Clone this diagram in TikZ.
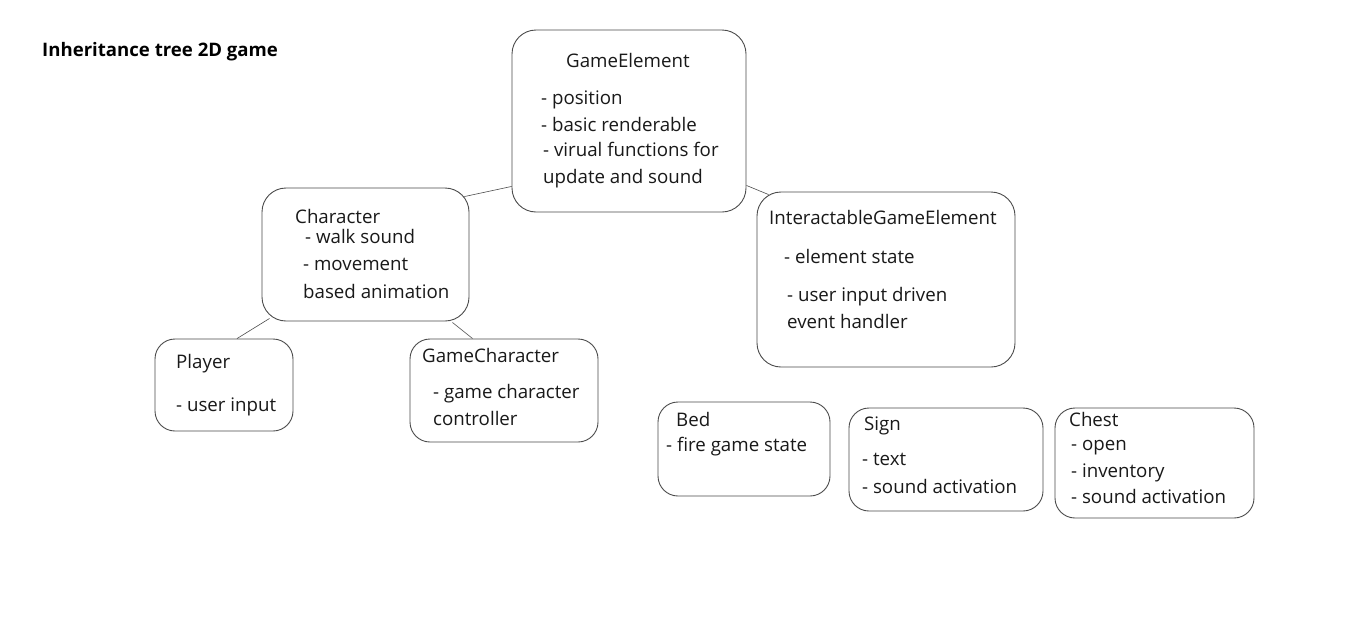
\documentclass[tikz,border=0pt]{standalone}
\usepackage{fontspec}
\setmainfont{Open Sans}
\usetikzlibrary{calc}
\tikzset{
  box/.style={draw=black!70, line width=0.9pt, rounded corners=24pt, inner sep=0pt},
  sbox/.style={box, rounded corners=20pt},
  txt/.style={anchor=base west, inner sep=0pt, font=\fontsize{18.7}{22}\selectfont, text=black!90},
  conn/.style={draw=black!70, line width=0.6pt},
}
\begin{document}
\begin{tikzpicture}[x=1pt,y=-1pt]
\useasboundingbox[fill=white] (0,0) rectangle (1350,619);
% title
\node[anchor=base west, inner sep=0pt, font=\fontsize{18.6}{22}\selectfont\bfseries] (title) at (42,56) {Inheritance tree 2D game};
% boxes
\node[box, minimum width=234pt, minimum height=182pt] (ge) at (629,121) {};
\node[box, minimum width=207pt, minimum height=133pt] (char) at (365.5,254.5) {};
\node[box, minimum width=258pt, minimum height=175pt] (ige) at (886,279.5) {};
\node[sbox, minimum width=138pt, minimum height=92pt] (player) at (224,385) {};
\node[sbox, minimum width=188pt, minimum height=103pt] (gc) at (504,390.5) {};
\node[sbox, minimum width=172pt, minimum height=94pt] (bed) at (744,449) {};
\node[sbox, minimum width=194pt, minimum height=103pt] (sign) at (946,459.5) {};
\node[sbox, minimum width=199pt, minimum height=110pt] (chest) at (1154.5,463) {};
% connectors
\draw[conn] ($(char.north east)+(-5,9)$) -- ($(ge.south west)+(0,-26)$);
\draw[conn] ($(ge.south east)+(0,-27)$) -- ($(ige.north west)+(12,3)$);
\draw[conn] ($(char.south west)+(8,-3)$) -- ($(player.north)+(13,0)$);
\draw[conn] ($(char.south east)+(-17,1)$) -- ($(gc.north west)+(63,0)$);
% texts GameElement
\node[txt] (t1) at (566,67) {GameElement};
\node[txt] (t2) at (541,104) {- position};
\node[txt] (t3) at (541,131) {- basic renderable};
\node[txt] (t4) at (543,156) {- virual functions for};
\node[txt] (t5) at (543,183) {update and sound};
% Character
\node[txt] (c1) at (295,223) {Character};
\node[txt] (c2) at (305,243) {- walk sound};
\node[txt] (c3) at (303,270) {- movement};
\node[txt] (c4) at (303,298) {based animation};
% Interactable
\node[txt] (i1) at (769,224) {InteractableGameElement};
\node[txt] (i2) at (784,263) {- element state};
\node[txt] (i3) at (787,301) {- user input driven};
\node[txt] (i4) at (787,328) {event handler};
% Player
\node[txt] (p1) at (176,368) {Player};
\node[txt] (p2) at (176,411) {- user input};
% GameCharacter
\node[txt] (g1) at (422,362) {GameCharacter};
\node[txt] (g2) at (433,398) {- game character};
\node[txt] (g3) at (433,425) {controller};
% Bed
\node[txt] (b1) at (676,426) {Bed};
\node[txt] (b2) at (666,451) {- fire game state};
% Sign
\node[txt] (s1) at (864,430) {Sign};
\node[txt] (s2) at (862,465) {- text};
\node[txt] (s3) at (862,493) {- sound activation};
% Chest
\node[txt] (h1) at (1069,426) {Chest};
\node[txt] (h2) at (1071,450) {- open};
\node[txt] (h3) at (1071,477) {- inventory};
\node[txt] (h4) at (1071,503) {- sound activation};
\end{tikzpicture}
\end{document}
